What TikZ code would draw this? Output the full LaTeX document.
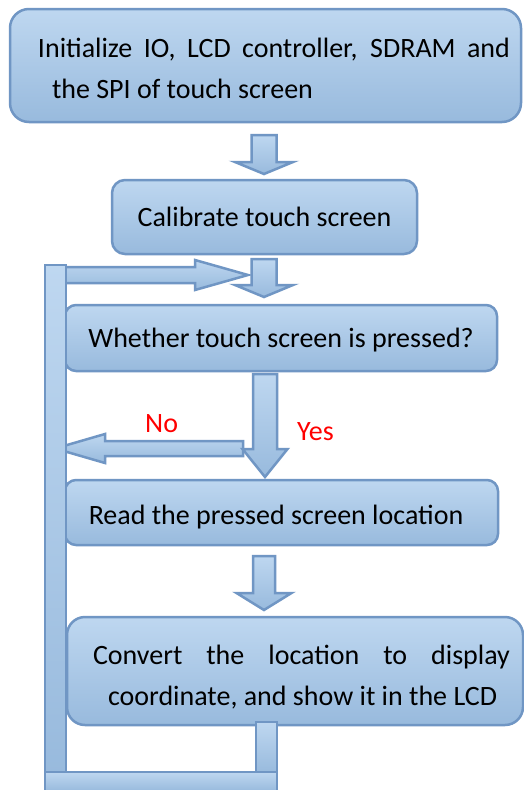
\documentclass[tikz,border=0pt]{standalone}
\usepackage{fontspec}
\setmainfont{Carlito}
\usetikzlibrary{calc}

\definecolor{flowtop}{RGB}{190,215,240}
\definecolor{flowbot}{RGB}{152,186,221}
\definecolor{flowline}{RGB}{112,150,196}

\tikzset{
  stepbox/.style={draw=flowline, line width=2.5pt, rounded corners=#1,
    top color=flowtop, bottom color=flowbot, inner sep=0pt, outer sep=0pt,
    font=\fontsize{28}{40.5}\selectfont, align=left},
  flowarrow/.style={draw=flowline, line width=2.5pt, top color=flowtop,
    bottom color=flowbot, line join=miter},
  answer/.style={text=red, font=\fontsize{28}{33}\selectfont, anchor=base west, inner sep=0pt}
}

% text moved down inside its box, box size kept
\newcommand{\lowered}[2]{\raisebox{-#1}[\height][\depth]{#2}}

% block arrows: from, tip, shaft half width, head half width, head length
\newcommand{\flowdown}[5]{%
  \path[flowarrow] let \p1=(#1), \p2=(#2) in
    (\x1-#3,\y1) -- (\x1+#3,\y1) -- (\x1+#3,\y2+#5) -- (\x1+#4,\y2+#5)
    -- (\x1,\y2) -- (\x1-#4,\y2+#5) -- (\x1-#3,\y2+#5) -- cycle;}
\newcommand{\flowside}[5]{%
  \path[flowarrow] let \p1=(#1), \p2=(#2), \n1={sign(\x2-\x1)} in
    (\x1,\y1+#3) -- (\x2-\n1*#5,\y1+#3) -- (\x2-\n1*#5,\y1+#4) -- (\x2,\y1)
    -- (\x2-\n1*#5,\y1-#4) -- (\x2-\n1*#5,\y1-#3) -- (\x1,\y1-#3) -- cycle;}

\begin{document}
\begin{tikzpicture}[x=1pt,y=-1pt]
\useasboundingbox[fill=white] (0,0) rectangle (524,790);

% steps
\node[stepbox=19pt, minimum width=511pt, minimum height=113pt] (init) at (265.5,65.5)
  {\lowered{3pt}{\hspace*{17pt}\parbox{472pt}{\makebox[472pt][s]{Initialize IO, LCD controller, SDRAM and}\\
   \hspace*{14pt}the SPI of touch screen}}};
\node[stepbox=13pt, minimum width=305pt, minimum height=74pt] (calib) at (264.5,217)
  {Calibrate touch screen};
\node[stepbox=11pt, minimum width=432pt, minimum height=66pt] (ask) at (281,338)
  {\lowered{2pt}{Whether touch screen is pressed?}};
\node[stepbox=11pt, minimum width=433pt, minimum height=65pt] (readpos) at (281.5,512.5)
  {\lowered{5pt}{\hspace*{-11pt}Read the pressed screen location}};
\node[stepbox=18pt, minimum width=456pt, minimum height=108pt] (show) at (295,671)
  {\lowered{6pt}{\hspace*{13pt}\parbox{417pt}{\makebox[417pt][s]{Convert the location to display}\\
   \hspace*{15pt}coordinate, and show it in the LCD}}};

% arrow ends
\coordinate (a1top) at ($(init.south)+(-1.5,13)$);
\coordinate (a1tip) at ($(calib.north)+(0,-6)$);
\coordinate (a2top) at ($(calib.south)+(-0.5,5)$);
\coordinate (a2tip) at ($(ask.north)+(0,-8)$);
\coordinate (a3top) at ($(ask.south)+(-16,3)$);
\coordinate (a3tip) at ($(readpos.north)+(0,-3)$);
\coordinate (a4top) at ($(readpos.south)+(-17.5,11)$);
\coordinate (a4tip) at ($(show.north)+(0,-7)$);
\coordinate (nostart) at (243,448.5);
\coordinate (notip) at (55,448.5);
\coordinate (loopstart) at (46,275);
\coordinate (looptip) at (248,275);

\flowdown{a1top}{a1tip}{12.5pt}{29pt}{12pt}
\flowdown{a2top}{a2tip}{12.5pt}{29pt}{12pt}
\flowside{nostart}{notip}{7.5pt}{14.5pt}{50pt}
\flowdown{a3top}{a3tip}{12pt}{22.5pt}{28pt}
\flowdown{a4top}{a4tip}{11pt}{27.5pt}{17pt}

% loop back
\flowside{loopstart}{looptip}{8pt}{15pt}{53pt}
\path[flowarrow] (45,265) rectangle (66,775);
\path[flowarrow] ($(show.south)+(-39,-3)$) rectangle ($(show.south)+(-18,48)$);
\path[flowarrow] (45,772) rectangle (277,791);

% answers
\node[answer] (no) at (145,432) {No};
\node[answer] (yes) at (297,440) {Yes};
\end{tikzpicture}
\end{document}
